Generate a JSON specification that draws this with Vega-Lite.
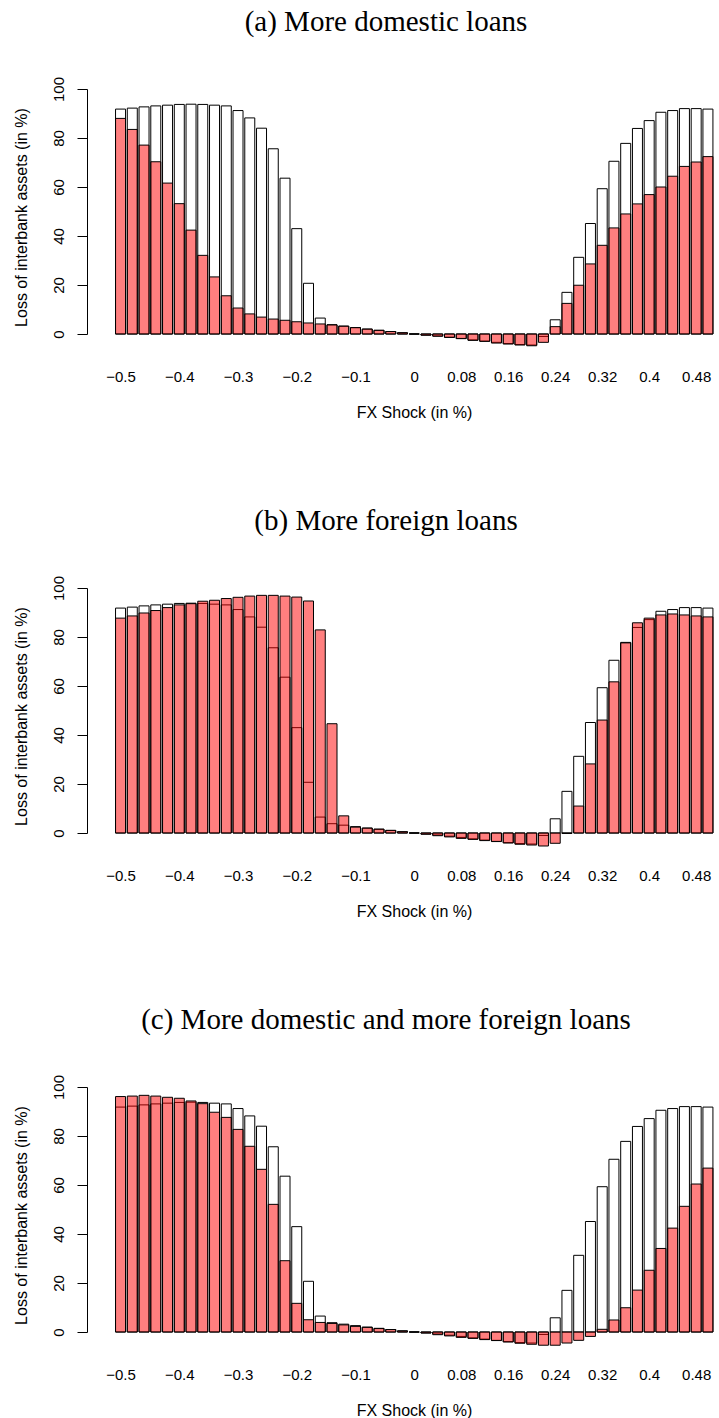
{
  "$schema": "https://vega.github.io/schema/vega-lite/v6.json",
  "background": "white",
  "padding": {"left": 13, "top": 8, "right": 0, "bottom": 0},
  "data": {"values": [
    {"s": -0.5, "base": 91.8, "a": 88.0, "b": 87.7, "c": 96.1},
    {"s": -0.48, "base": 92.2, "a": 83.5, "b": 88.6, "c": 96.3},
    {"s": -0.46, "base": 92.7, "a": 77.1, "b": 89.8, "c": 96.6},
    {"s": -0.44, "base": 93.1, "a": 70.3, "b": 90.8, "c": 96.3},
    {"s": -0.42, "base": 93.4, "a": 61.6, "b": 92.0, "c": 95.8},
    {"s": -0.4, "base": 93.7, "a": 53.2, "b": 93.1, "c": 95.4},
    {"s": -0.38, "base": 93.8, "a": 42.4, "b": 93.6, "c": 94.3},
    {"s": -0.36, "base": 93.7, "a": 32.1, "b": 94.6, "c": 93.2},
    {"s": -0.34, "base": 93.4, "a": 23.3, "b": 95.0, "c": 89.7},
    {"s": -0.32, "base": 93.1, "a": 15.6, "b": 95.7, "c": 87.6},
    {"s": -0.3, "base": 91.2, "a": 10.6, "b": 96.2, "c": 82.7},
    {"s": -0.28, "base": 88.2, "a": 8.2, "b": 96.7, "c": 75.8},
    {"s": -0.26, "base": 84.0, "a": 6.9, "b": 97.0, "c": 66.4},
    {"s": -0.24, "base": 75.6, "a": 6.1, "b": 97.0, "c": 52.1},
    {"s": -0.22, "base": 63.6, "a": 5.6, "b": 96.7, "c": 29.1},
    {"s": -0.2, "base": 43.0, "a": 5.0, "b": 96.3, "c": 11.7},
    {"s": -0.18, "base": 20.7, "a": 4.5, "b": 94.7, "c": 5.0},
    {"s": -0.16, "base": 6.5, "a": 4.1, "b": 82.9, "c": 3.9},
    {"s": -0.14, "base": 3.8, "a": 3.7, "b": 44.6, "c": 3.5},
    {"s": -0.12, "base": 3.2, "a": 3.2, "b": 7.0, "c": 2.9},
    {"s": -0.1, "base": 2.6, "a": 2.6, "b": 2.4, "c": 2.3},
    {"s": -0.08, "base": 2.0, "a": 2.0, "b": 2.0, "c": 1.9},
    {"s": -0.06, "base": 1.5, "a": 1.5, "b": 1.6, "c": 1.4},
    {"s": -0.04, "base": 1.0, "a": 1.0, "b": 1.1, "c": 1.0},
    {"s": -0.02, "base": 0.5, "a": 0.5, "b": 0.5, "c": 0.4},
    {"s": 0, "base": 0, "a": 0, "b": 0, "c": 0},
    {"s": 0.02, "base": -0.4, "a": -0.5, "b": -0.5, "c": -0.4},
    {"s": 0.04, "base": -0.8, "a": -0.9, "b": -1.1, "c": -1.1},
    {"s": 0.06, "base": -1.3, "a": -1.4, "b": -1.6, "c": -1.6},
    {"s": 0.08, "base": -1.8, "a": -1.9, "b": -2.2, "c": -2.2},
    {"s": 0.1, "base": -2.4, "a": -2.6, "b": -2.6, "c": -2.6},
    {"s": 0.12, "base": -2.9, "a": -3.0, "b": -3.1, "c": -3.1},
    {"s": 0.14, "base": -3.4, "a": -3.7, "b": -3.5, "c": -3.5},
    {"s": 0.16, "base": -3.9, "a": -4.1, "b": -4.1, "c": -4.1},
    {"s": 0.18, "base": -4.3, "a": -4.5, "b": -4.6, "c": -4.6},
    {"s": 0.2, "base": -4.5, "a": -4.8, "b": -4.9, "c": -5.0},
    {"s": 0.22, "base": -1.0, "a": -3.4, "b": -5.3, "c": -5.4},
    {"s": 0.24, "base": 5.8, "a": 3.0, "b": -4.2, "c": -5.4},
    {"s": 0.26, "base": 17.0, "a": 12.5, "b": -0.2, "c": -4.5},
    {"s": 0.28, "base": 31.3, "a": 19.9, "b": 11.0, "c": -3.4},
    {"s": 0.3, "base": 45.1, "a": 28.6, "b": 28.2, "c": -1.8},
    {"s": 0.32, "base": 59.3, "a": 36.2, "b": 46.1, "c": 1.1},
    {"s": 0.34, "base": 70.5, "a": 43.3, "b": 61.7, "c": 4.9},
    {"s": 0.36, "base": 77.8, "a": 49.0, "b": 77.6, "c": 9.9},
    {"s": 0.38, "base": 83.9, "a": 53.1, "b": 85.8, "c": 17.1},
    {"s": 0.4, "base": 87.1, "a": 56.9, "b": 87.7, "c": 25.2},
    {"s": 0.42, "base": 90.5, "a": 60.0, "b": 89.0, "c": 34.1},
    {"s": 0.44, "base": 91.2, "a": 64.4, "b": 89.4, "c": 42.4},
    {"s": 0.46, "base": 92.0, "a": 68.4, "b": 89.0, "c": 51.3},
    {"s": 0.48, "base": 92.0, "a": 70.2, "b": 88.6, "c": 60.4},
    {"s": 0.5, "base": 91.8, "a": 72.4, "b": 88.2, "c": 66.9}
  ]},
  "config": {
    "view": {"stroke": null},
    "concat": {"spacing": 87},
    "axis": {
      "labelFont": "Liberation Sans", "titleFont": "Liberation Sans",
      "labelFontSize": 15, "titleFontSize": 16,
      "labelColor": "black", "titleColor": "black", "titleFontWeight": "normal",
      "domainColor": "black", "tickColor": "black", "domainWidth": 1, "tickWidth": 1,
      "grid": false
    },
    "title": {"font": "Liberation Serif", "fontSize": 29, "fontWeight": "normal", "color": "black", "baseline": "alphabetic", "offset": 39, "dx": -28}
  },
  "vconcat": [
    {
      "title": "(a) More domestic loans",
      "width": 654, "height": 245,
      "encoding": {"x": {"field": "s", "type": "quantitative",
        "scale": {"domain": [-0.5486, 0.5478], "nice": false, "zero": false},
        "axis": {"values": [-0.5, -0.4, -0.3, -0.2, -0.1, 0, 0.08, 0.16, 0.24, 0.32, 0.4, 0.48], "labelExpr": "replace(toString(datum.value), '-', '−')", "domain": false, "ticks": false, "labelPadding": 35, "labelOverlap": false, "labelFlush": false, "title": "FX Shock (in %)", "titlePadding": 20}}},
      "layer": [
        {"mark": {"type": "bar", "width": 10, "fill": "white", "stroke": "black", "strokeWidth": 1},
         "encoding": {"y": {"field": "base", "type": "quantitative", "scale": {"domain": [0, 100], "nice": false},
           "axis": {"values": [0, 20, 40, 60, 80, 100], "tickSize": 10, "labelAngle": 270, "labelAlign": "center", "labelBaseline": "middle", "labelPadding": 19, "title": "Loss of interbank assets (in %)", "titlePadding": 22, "titleY": 128}}}},
        {"mark": {"type": "bar", "width": 10, "fill": "#ff0000", "fillOpacity": 0.5, "stroke": "black", "strokeWidth": 1},
         "encoding": {"y": {"field": "a", "type": "quantitative", "axis": {"title": "Loss of interbank assets (in %)"}}}}
      ]
    },
    {
      "title": "(b) More foreign loans",
      "width": 654, "height": 245,
      "encoding": {"x": {"field": "s", "type": "quantitative",
        "scale": {"domain": [-0.5486, 0.5478], "nice": false, "zero": false},
        "axis": {"values": [-0.5, -0.4, -0.3, -0.2, -0.1, 0, 0.08, 0.16, 0.24, 0.32, 0.4, 0.48], "labelExpr": "replace(toString(datum.value), '-', '−')", "domain": false, "ticks": false, "labelPadding": 35, "labelOverlap": false, "labelFlush": false, "title": "FX Shock (in %)", "titlePadding": 20}}},
      "layer": [
        {"mark": {"type": "bar", "width": 10, "fill": "white", "stroke": "black", "strokeWidth": 1},
         "encoding": {"y": {"field": "base", "type": "quantitative", "scale": {"domain": [0, 100], "nice": false},
           "axis": {"values": [0, 20, 40, 60, 80, 100], "tickSize": 10, "labelAngle": 270, "labelAlign": "center", "labelBaseline": "middle", "labelPadding": 19, "title": "Loss of interbank assets (in %)", "titlePadding": 22, "titleY": 128}}}},
        {"mark": {"type": "bar", "width": 10, "fill": "#ff0000", "fillOpacity": 0.5, "stroke": "black", "strokeWidth": 1},
         "encoding": {"y": {"field": "b", "type": "quantitative", "axis": {"title": "Loss of interbank assets (in %)"}}}}
      ]
    },
    {
      "title": "(c) More domestic and more foreign loans",
      "width": 654, "height": 245,
      "encoding": {"x": {"field": "s", "type": "quantitative",
        "scale": {"domain": [-0.5486, 0.5478], "nice": false, "zero": false},
        "axis": {"values": [-0.5, -0.4, -0.3, -0.2, -0.1, 0, 0.08, 0.16, 0.24, 0.32, 0.4, 0.48], "labelExpr": "replace(toString(datum.value), '-', '−')", "domain": false, "ticks": false, "labelPadding": 35, "labelOverlap": false, "labelFlush": false, "title": "FX Shock (in %)", "titlePadding": 20}}},
      "layer": [
        {"mark": {"type": "bar", "width": 10, "fill": "white", "stroke": "black", "strokeWidth": 1},
         "encoding": {"y": {"field": "base", "type": "quantitative", "scale": {"domain": [0, 100], "nice": false},
           "axis": {"values": [0, 20, 40, 60, 80, 100], "tickSize": 10, "labelAngle": 270, "labelAlign": "center", "labelBaseline": "middle", "labelPadding": 19, "title": "Loss of interbank assets (in %)", "titlePadding": 22, "titleY": 128}}}},
        {"mark": {"type": "bar", "width": 10, "fill": "#ff0000", "fillOpacity": 0.5, "stroke": "black", "strokeWidth": 1},
         "encoding": {"y": {"field": "c", "type": "quantitative", "axis": {"title": "Loss of interbank assets (in %)"}}}}
      ]
    }
  ]
}
